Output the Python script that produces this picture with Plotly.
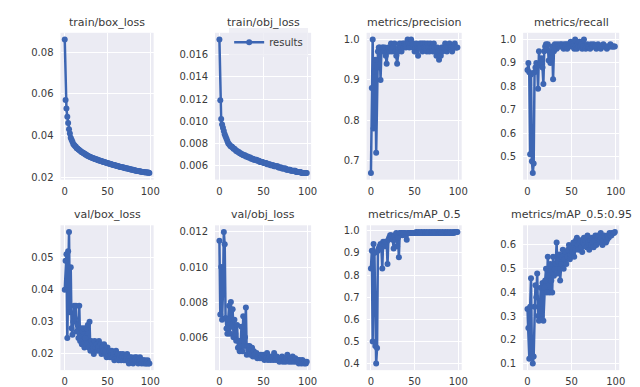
import plotly.graph_objects as go

epochs = list(range(100))

train_box_loss = [
    0.086, 0.057, 0.053, 0.049, 0.046, 0.043, 0.041, 0.039, 0.038, 0.037,
    0.036, 0.0355, 0.035, 0.0346, 0.034, 0.0338, 0.0333, 0.0331, 0.0327, 0.0324,
    0.032, 0.0319, 0.0315, 0.0314, 0.031, 0.0309, 0.0305, 0.0304, 0.0301, 0.0299,
    0.0298, 0.0295, 0.0294, 0.0292, 0.0291, 0.0288, 0.0288, 0.0285, 0.0285, 0.0282,
    0.0282, 0.028, 0.0279, 0.0277, 0.0277, 0.0274, 0.0274, 0.0272, 0.0271, 0.0269,
    0.0269, 0.0267, 0.0266, 0.0264, 0.0264, 0.0262, 0.0261, 0.0259, 0.0259, 0.0257,
    0.0257, 0.0255, 0.0254, 0.0252, 0.0252, 0.025, 0.025, 0.0248, 0.0248, 0.0246,
    0.0246, 0.0244, 0.0244, 0.0242, 0.0242, 0.024, 0.024, 0.0238, 0.0238, 0.0236,
    0.0236, 0.0234, 0.0234, 0.0232, 0.0232, 0.023, 0.023, 0.0229, 0.0229, 0.0227,
    0.0227, 0.0226, 0.0226, 0.0224, 0.0225, 0.0223, 0.0224, 0.0222, 0.0223, 0.0221,
]

train_obj_loss = [
    0.0174, 0.0119, 0.0102, 0.0097, 0.0094, 0.0091, 0.0088, 0.0086, 0.0084, 0.0082,
    0.0080, 0.0079, 0.0078, 0.0077, 0.0077, 0.0076, 0.0075, 0.0075, 0.0074, 0.0073,
    0.0073, 0.0072, 0.0072, 0.0071, 0.0071, 0.0070, 0.0070, 0.0069, 0.0069, 0.0069,
    0.0068, 0.0068, 0.0068, 0.0067, 0.0067, 0.0067, 0.0066, 0.0066, 0.0066, 0.0065,
    0.0065, 0.0065, 0.0065, 0.0064, 0.0064, 0.0064, 0.0063, 0.0063, 0.0063, 0.0063,
    0.0062, 0.0062, 0.0062, 0.0062, 0.0061, 0.0061, 0.0061, 0.0061, 0.0060, 0.0060,
    0.0060, 0.0060, 0.0059, 0.0059, 0.0059, 0.0059, 0.0059, 0.0058, 0.0058, 0.0058,
    0.0058, 0.0057, 0.0057, 0.0057, 0.0057, 0.0057, 0.0056, 0.0056, 0.0056, 0.0056,
    0.0056, 0.0055, 0.0055, 0.0055, 0.0055, 0.0055, 0.0055, 0.0054, 0.0054, 0.0054,
    0.0054, 0.0054, 0.0054, 0.0053, 0.0053, 0.0053, 0.0053, 0.0053, 0.0053, 0.0053,
]

precision = [
    0.67, 0.88, 1.00, 0.78, 0.92, 0.95, 0.72, 0.93, 0.97, 0.98,
    0.98, 0.90, 0.97, 0.98, 0.98, 0.97, 0.98, 0.96, 0.94, 0.97,
    0.98, 0.97, 0.98, 0.99, 0.97, 0.98, 0.98, 0.99, 0.97, 0.96,
    0.94, 0.97, 0.98, 0.99, 0.98, 0.97, 0.99, 0.98, 0.99, 0.99,
    0.98, 0.99, 1.00, 0.99, 0.98, 0.99, 1.00, 0.99, 0.98, 0.99,
    0.97, 0.98, 0.99, 0.98, 0.96, 0.98, 0.99, 0.98, 0.99, 0.97,
    0.99, 0.98, 0.99, 0.98, 0.97, 0.99, 0.98, 0.97, 0.99, 0.98,
    0.98, 0.97, 0.99, 0.98, 0.97, 0.96, 0.98, 0.97, 0.95, 0.97,
    0.96, 0.98, 0.97, 0.98, 0.98, 0.99, 0.98, 0.97, 0.98, 0.98,
    0.99, 0.98, 0.98, 0.97, 0.98, 0.98, 0.99, 0.98, 0.98, 0.98,
]

recall = [
    0.87, 0.90, 0.86, 0.51, 0.85, 0.48, 0.43, 0.47, 0.86, 0.88,
    0.90, 0.89, 0.79, 0.95, 0.89, 0.90, 0.92, 0.88, 0.81, 0.95,
    0.97, 0.98, 0.96, 0.98, 0.91, 0.95, 0.90, 0.92, 0.97, 0.83,
    0.95, 0.98, 0.97, 0.96, 0.98, 0.97, 0.97, 0.98, 0.97, 0.98,
    0.97, 0.96, 0.98, 0.97, 0.98, 0.96, 0.98, 0.97, 0.98, 0.99,
    0.97, 0.98, 0.97, 0.96, 1.00, 0.97, 0.96, 0.98, 0.97, 0.99,
    0.97, 0.98, 0.96, 0.97, 1.00, 0.97, 0.96, 0.97, 0.98, 0.97,
    0.97, 0.96, 0.98, 0.97, 0.97, 0.98, 0.97, 0.97, 0.96, 0.97,
    0.98, 0.97, 0.97, 0.96, 0.97, 0.97, 0.98, 0.97, 0.97, 0.97,
    0.96, 0.97, 0.97, 0.97, 0.98, 0.97, 0.97, 0.97, 0.97, 0.97,
]

val_box_loss = [
    0.040, 0.049, 0.051, 0.025, 0.052, 0.058, 0.033, 0.047, 0.028, 0.026,
    0.030, 0.035, 0.031, 0.035, 0.027, 0.029, 0.025, 0.035, 0.024, 0.028,
    0.023, 0.027, 0.028, 0.022, 0.025, 0.028, 0.023, 0.029, 0.022, 0.030,
    0.021, 0.024, 0.023, 0.022, 0.020, 0.024, 0.022, 0.023, 0.021, 0.022,
    0.024, 0.021, 0.023, 0.020, 0.022, 0.021, 0.023, 0.020, 0.021, 0.019,
    0.022, 0.020, 0.021, 0.019, 0.020, 0.021, 0.019, 0.020, 0.018, 0.019,
    0.021, 0.019, 0.020, 0.018, 0.019, 0.020, 0.018, 0.019, 0.020, 0.018,
    0.019, 0.018, 0.019, 0.020, 0.018, 0.017, 0.019, 0.018, 0.019, 0.018,
    0.017, 0.018, 0.019, 0.018, 0.019, 0.018, 0.017, 0.018, 0.019, 0.018,
    0.017, 0.018, 0.018, 0.017, 0.018, 0.017, 0.017, 0.018, 0.017, 0.017,
]

val_obj_loss = [
    0.0115, 0.0073, 0.0100, 0.0070, 0.0085, 0.0120, 0.0113, 0.0071, 0.0065, 0.0062,
    0.0070, 0.0078, 0.0062, 0.0080, 0.0066, 0.0076, 0.0060, 0.0070, 0.0062, 0.0058,
    0.0067, 0.0054, 0.0058, 0.0052, 0.0055, 0.0066, 0.0052, 0.0072, 0.0055, 0.0060,
    0.0077, 0.0050, 0.0055, 0.0053, 0.0055, 0.0050, 0.0053, 0.0054, 0.0049, 0.0052,
    0.0050, 0.0049, 0.0051, 0.0048, 0.0050, 0.0049, 0.0048, 0.0050, 0.0049, 0.0048,
    0.0050, 0.0047, 0.0049, 0.0048, 0.0051, 0.0047, 0.0048, 0.0049, 0.0047, 0.0048,
    0.0049, 0.0047, 0.0051, 0.0048, 0.0047, 0.0049, 0.0048, 0.0047, 0.0046, 0.0048,
    0.0047, 0.0049, 0.0046, 0.0048, 0.0047, 0.0046, 0.0048, 0.0050, 0.0047, 0.0046,
    0.0048, 0.0047, 0.0046, 0.0049, 0.0047, 0.0046, 0.0048, 0.0047, 0.0046, 0.0047,
    0.0045, 0.0047, 0.0046, 0.0045, 0.0047, 0.0046, 0.0045, 0.0046, 0.0045, 0.0046,
]

map_50 = [
    0.83, 0.91, 0.50, 0.94, 0.90, 0.48, 0.40, 0.47, 0.91, 0.92,
    0.93, 0.94, 0.92, 0.83, 0.95, 0.94, 0.95, 0.93, 0.95, 0.85,
    0.96, 0.97, 0.98, 0.98, 0.97, 0.96, 0.92, 0.98, 0.96, 0.99,
    0.93, 0.97, 0.88, 0.99, 0.99, 0.99, 0.98, 0.99, 0.99, 0.99,
    0.98, 0.96, 0.99, 0.99, 0.99, 0.99, 0.99, 0.99, 0.99, 0.99,
    0.99, 0.99, 0.995, 0.99, 0.99, 0.995, 0.99, 0.99, 0.995, 0.99,
    0.99, 0.995, 0.99, 0.99, 0.995, 0.99, 0.99, 0.995, 0.99, 0.99,
    0.995, 0.99, 0.99, 0.995, 0.99, 0.99, 0.995, 0.99, 0.99, 0.995,
    0.99, 0.99, 0.995, 0.99, 0.99, 0.995, 0.99, 0.99, 0.995, 0.99,
    0.99, 0.995, 0.99, 0.99, 0.995, 0.99, 0.995, 0.995, 0.995, 0.995,
]

map_50_95 = [
    0.33, 0.25, 0.12, 0.34, 0.46, 0.14, 0.10, 0.13, 0.34, 0.43,
    0.38, 0.48, 0.30, 0.28, 0.33, 0.42, 0.30, 0.44, 0.28, 0.42,
    0.45, 0.50, 0.40, 0.55, 0.47, 0.40, 0.52, 0.45, 0.40, 0.55,
    0.47, 0.50, 0.52, 0.61, 0.48, 0.53, 0.56, 0.45, 0.52, 0.55,
    0.58, 0.50, 0.54, 0.57, 0.52, 0.55, 0.58, 0.60, 0.54, 0.56,
    0.59, 0.57, 0.61, 0.55, 0.58, 0.62, 0.63, 0.60, 0.58, 0.61,
    0.62, 0.59, 0.57, 0.61, 0.63, 0.60, 0.62, 0.59, 0.64, 0.61,
    0.58, 0.62, 0.60, 0.63, 0.61, 0.59, 0.62, 0.64, 0.60, 0.63,
    0.64, 0.61, 0.62, 0.65, 0.63, 0.60, 0.62, 0.64, 0.63, 0.61,
    0.62, 0.64, 0.63, 0.65, 0.64, 0.64, 0.65, 0.65, 0.65, 0.655,
]

titles = ["train/box_loss", "train/obj_loss", "metrics/precision", "metrics/recall",
          "val/box_loss", "val/obj_loss", "metrics/mAP_0.5", "metrics/mAP_0.5:0.95"]
series = [train_box_loss, train_obj_loss, precision, recall,
          val_box_loss, val_obj_loss, map_50, map_50_95]
y_ticks = [
    [0.02, 0.04, 0.06, 0.08],
    [0.006, 0.008, 0.010, 0.012, 0.014, 0.016],
    [0.7, 0.8, 0.9, 1.0],
    [0.4, 0.5, 0.6, 0.7, 0.8, 0.9, 1.0],
    [0.02, 0.03, 0.04, 0.05],
    [0.006, 0.008, 0.010, 0.012],
    [0.4, 0.5, 0.6, 0.7, 0.8, 0.9, 1.0],
    [0.1, 0.2, 0.3, 0.4, 0.5, 0.6],
]
y_fmt = [".2f", ".3f", ".1f", ".1f", ".2f", ".3f", ".1f", ".1f"]
x_ticks = [0, 50, 100]

W, H = 640, 387
col_px = [(53, 147), (209, 306), (362, 458), (520, 617)]
row_px = [(25, 173), (219, 365)]
title_px = [15, 208]

LINE = "#3d66b3"
BG = "#ebebf3"
TXT = "#3a3a3a"
FONT = "DejaVu Sans"

fig = go.Figure()
annotations = []
for i, (ttl, ys) in enumerate(zip(titles, series)):
    r, c = divmod(i, 4)
    n = i + 1
    xa = "x" if n == 1 else f"x{n}"
    ya = "y" if n == 1 else f"y{n}"
    fig.add_trace(go.Scatter(
        x=epochs, y=ys, mode="lines+markers", name="results",
        line=dict(color=LINE, width=2.5), marker=dict(color=LINE, size=6),
        xaxis=xa, yaxis=ya, showlegend=(i == 1),
    ))
    lo, hi = min(ys), max(ys)
    span = hi - lo
    xlo, xhi = min(epochs), max(epochs)
    xspan = xhi - xlo
    x0, x1 = col_px[c]
    y0, y1 = row_px[r]
    common = dict(showline=False, zeroline=False, gridcolor="white", gridwidth=1,
                  ticks="", tickfont=dict(family=FONT, size=10, color=TXT))
    fig.layout[f"xaxis{'' if n == 1 else n}"] = dict(
        domain=[x0 / W, x1 / W], anchor=ya,
        range=[xlo - 0.05 * xspan, xhi + 0.05 * xspan],
        tickvals=x_ticks, ticklabelstandoff=4, **common)
    fig.layout[f"yaxis{'' if n == 1 else n}"] = dict(
        domain=[1 - y1 / H, 1 - y0 / H], anchor=xa,
        range=[lo - 0.05 * span, hi + 0.05 * span],
        tickvals=y_ticks[i], tickformat=y_fmt[i], ticklabelstandoff=6, **common)
    annotations.append(dict(
        text=ttl, x=(x0 + x1) / 2 / W, y=1 - title_px[r] / H, xref="paper", yref="paper",
        xanchor="center", yanchor="middle", showarrow=False,
        font=dict(family=FONT, size=11, color=TXT)))

fig.update_layout(
    width=W, height=H, margin=dict(l=0, r=0, t=0, b=0),
    paper_bgcolor="white", plot_bgcolor=BG,
    annotations=annotations,
    legend=dict(x=303 / W, y=1 - 20 / H, xanchor="right", yanchor="top",
                bgcolor="rgba(235,235,243,0.8)", font=dict(family=FONT, size=10, color=TXT),
                itemwidth=30, borderwidth=0),
)

fig.write_html("out.html")
